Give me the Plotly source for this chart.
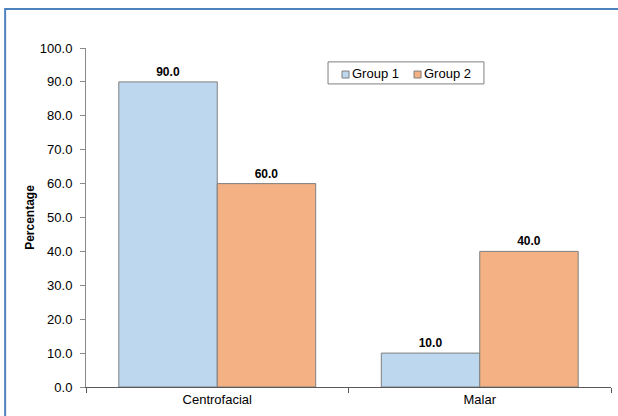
import plotly.graph_objects as go

categories = ["Centrofacial", "Malar"]
group1 = [90.0, 10.0]
group2 = [60.0, 40.0]
series_names = ["Group 1", "Group 2"]
series_colors = ["#BDD7EE", "#F4B183"]
y_ticks = [0, 10, 20, 30, 40, 50, 60, 70, 80, 90, 100]

OUTLINE = "#7F7F7F"

fig = go.Figure()
for name, vals, color in zip(series_names, [group1, group2], series_colors):
    fig.add_trace(go.Bar(
        x=categories, y=vals, name=name,
        marker=dict(color=color, line=dict(color=OUTLINE, width=1)),
        text=[f"{v:.1f}" for v in vals], textposition="outside",
        textfont=dict(family="Arial", size=12, color="black"),
        texttemplate="<b>%{text}</b>", cliponaxis=False,
    ))

# compact boxed legend drawn in paper coordinates
legend_shapes = [dict(type="rect", xref="paper", yref="paper",
                      x0=0.461, x1=0.758, y0=0.894, y1=0.959,
                      line=dict(color=OUTLINE, width=1), fillcolor="white")]
legend_notes = []
for i, (name, color) in enumerate(zip(series_names, series_colors)):
    sx = 0.4876 + i * 0.1372
    legend_shapes.append(dict(type="rect", xref="paper", yref="paper",
                              x0=sx, x1=sx + 0.0134, y0=0.9115, y1=0.932,
                              line=dict(color=OUTLINE, width=1), fillcolor=color))
    legend_notes.append(dict(xref="paper", yref="paper", x=sx + 0.016, y=0.924,
                             xanchor="left", yanchor="middle", showarrow=False,
                             text=name, font=dict(family="Arial", size=13, color="black")))

fig.update_layout(
    width=618, height=416,
    margin=dict(l=86, r=7, t=48, b=29),
    paper_bgcolor="white", plot_bgcolor="white",
    barmode="group", bargap=0.25, bargroupgap=0,
    font=dict(family="Arial", size=13, color="black"),
    showlegend=False,
    xaxis=dict(showline=True, linecolor="#595959", linewidth=1,
               ticks="outside", ticklen=5, tickcolor="#595959", tickson="boundaries",
               tickfont=dict(family="Arial", size=13), showgrid=False),
    yaxis=dict(range=[0, 100], tickvals=y_ticks, tickformat=".1f",
               showline=True, linecolor="#898989", linewidth=1,
               ticks="outside", ticklen=5, tickcolor="#898989",
               ticklabelstandoff=5,
               showgrid=False, zeroline=False,
               tickfont=dict(family="Arial", size=13),
               title=dict(text="<b>Percentage</b>", font=dict(family="Arial", size=12), standoff=2)),
    shapes=[dict(type="rect", xref="paper", yref="paper",
                 x0=-0.154, y0=-0.1, x1=1.02, y1=1.115,
                 line=dict(color="#4F81BD", width=2), layer="below")] + legend_shapes,
    annotations=legend_notes,
)

fig.write_html("out.html")
